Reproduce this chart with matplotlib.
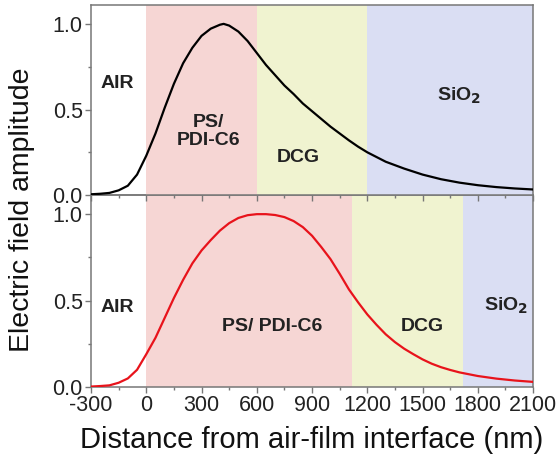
import numpy as np
import matplotlib
matplotlib.use('Agg')
import matplotlib.pyplot as plt

plt.rcParams['font.family'] = ['Liberation Sans', 'DejaVu Sans']
plt.rcParams['axes.unicode_minus'] = False

# ── Data ─────────────────────────────────────────────────
# top panel (black)
top_x = [-300, -250, -200, -150, -100, -50, 0, 50, 100, 150, 200, 250,
         300, 350, 400, 420, 450, 500, 550, 600, 650, 700, 750, 800,
         850, 900, 950, 1000, 1050, 1100, 1150, 1200, 1300, 1400, 1500,
         1600, 1700, 1800, 1900, 2000, 2100]
top_y = [0.005, 0.008, 0.013, 0.028, 0.055, 0.12, 0.23, 0.36, 0.51, 0.65,
         0.77, 0.86, 0.93, 0.972, 0.995, 1.0, 0.99, 0.955, 0.90, 0.83,
         0.76, 0.70, 0.64, 0.59, 0.535, 0.49, 0.445, 0.40, 0.36, 0.32,
         0.283, 0.25, 0.195, 0.155, 0.12, 0.093, 0.073, 0.058, 0.047,
         0.039, 0.033]

# bottom panel (red)
bot_x = [-300, -250, -200, -150, -100, -50, 0, 50, 100, 150, 200, 250,
         300, 350, 400, 450, 500, 550, 600, 650, 700, 750, 800, 850, 900,
         950, 1000, 1050, 1100, 1150, 1200, 1250, 1300, 1350, 1400, 1450,
         1500, 1550, 1600, 1650, 1700, 1800, 1900, 2000, 2100]
bot_y = [0.003, 0.006, 0.01, 0.025, 0.05, 0.10, 0.19, 0.285, 0.40, 0.515,
         0.62, 0.715, 0.79, 0.85, 0.905, 0.948, 0.978, 0.994, 1.0, 1.0,
         0.995, 0.983, 0.96, 0.925, 0.875, 0.81, 0.74, 0.655, 0.565, 0.49,
         0.42, 0.36, 0.305, 0.26, 0.222, 0.19, 0.16, 0.135, 0.115, 0.099,
         0.085, 0.064, 0.049, 0.038, 0.03]

# layer boundaries (nm)
top_layers = [('PS', 0, 600), ('DCG', 600, 1200), ('SiO2', 1200, 2100)]
bot_layers = [('PS', 0, 1115), ('DCG', 1115, 1720), ('SiO2', 1720, 2100)]

layer_colors = {'PS': '#f6d6d4', 'DCG': '#f0f3d0', 'SiO2': '#dadef3'}

fig = plt.figure(figsize=(5.6, 4.57), dpi=100)
ax_top = fig.add_axes([0.1625, 0.573, 0.7895, 0.416])
ax_bot = fig.add_axes([0.1625, 0.153, 0.7895, 0.420])

for ax, layers, xs, ys, col in [(ax_top, top_layers, top_x, top_y, 'black'),
                                (ax_bot, bot_layers, bot_x, bot_y, '#e8131b')]:
    for name, x0, x1 in layers:
        ax.axvspan(x0, x1, color=layer_colors[name], lw=0, zorder=0)
    ax.plot(xs, ys, color=col, lw=1.6, zorder=3, solid_capstyle='round')
    ax.set_xlim(-300, 2100)
    ax.set_ylim(0, 1.11)
    ax.set_xticks(np.arange(-300, 2101, 300))
    ax.set_xticks(np.arange(-150, 2100, 300), minor=True)
    ax.set_yticks([0, 0.5, 1.0])
    ax.set_yticks([0.25, 0.75], minor=True)
    ax.set_yticklabels(['0.0', '0.5', '1.0'])
    ax.tick_params(axis='both', which='major', direction='out', length=4,
                   width=1, color='#777777', labelsize=15.5, labelcolor='#222222',
                   pad=2)
    ax.tick_params(axis='both', which='minor', direction='out', length=2.5,
                   width=1, color='#777777')
    for sp in ax.spines.values():
        sp.set_color('#777777')
        sp.set_linewidth(1.1)

ax_top.set_xticklabels([])
ax_top.set_zorder(2)
ax_top.patch.set_alpha(0)

lab = dict(fontsize=14, fontweight='bold', color='#222222',
           ha='center', va='center', zorder=4)
ax_top.text(-155, 0.65, 'AIR', **lab)
ax_top.text(340, 0.37, 'PS/\nPDI-C6', linespacing=1.1, **lab)
ax_top.text(824, 0.22, 'DCG', **lab)
ax_top.text(1700, 0.58, 'SiO$_\\mathbf{2}$', **lab)

ax_bot.text(-160, 0.46, 'AIR', **lab)
ax_bot.text(683, 0.35, 'PS/ PDI-C6', **lab)
ax_bot.text(1497, 0.35, 'DCG', **lab)
ax_bot.text(1955, 0.47, 'SiO$_\\mathbf{2}$', **lab)

ax_bot.set_xlabel('Distance from air-film interface (nm)', fontsize=21,
                  color='#111111', labelpad=7)
fig.text(0.04, 0.54, 'Electric field amplitude', rotation=90, fontsize=20.5,
         color='#111111', ha='center', va='center')

fig.savefig('out.png', dpi=100)
